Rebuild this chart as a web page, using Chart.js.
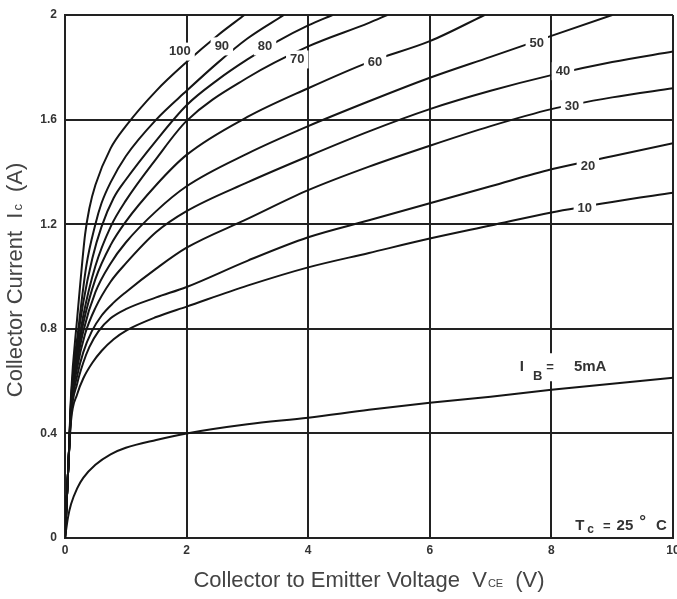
<!DOCTYPE html>
<html><head><meta charset="utf-8">
<script src="https://cdn.jsdelivr.net/npm/chart.js@4/dist/chart.umd.min.js"></script>
<style>html,body{margin:0;padding:0;background:#fff}canvas{display:block}</style>
</head><body>
<canvas id="c" width="677" height="599"></canvas>
<script>
// ---- data ----
const xTickLabels = ['0','2','4','6','8','10'];
const yTickLabels = ['0','0.4','0.8','1.2','1.6','2'];

const vIb5   = [0,0.05,0.1,0.2,0.3,0.5,0.75,1,1.5,2,3,4,5,6,7,8,9,10];
const iIb5   = [0,0.08,0.13,0.19,0.23,0.28,0.32,0.345,0.375,0.4,0.435,0.46,0.49,0.517,0.54,0.567,0.59,0.613];
const vIb10  = [0,0.06,0.1,0.2,0.3,0.45,0.6,0.8,1.02,1.5,2,3,4,5,6,7,8,9,10];
const iIb10  = [0,0.3,0.45,0.55,0.61,0.67,0.715,0.76,0.795,0.845,0.885,0.965,1.035,1.09,1.145,1.195,1.245,1.285,1.32];
const vIb20  = [0,0.06,0.1,0.2,0.3,0.4,0.55,0.75,1,1.5,2,3,4,5,6,7,8,9,10];
const iIb20  = [0,0.3,0.47,0.59,0.67,0.73,0.79,0.84,0.875,0.92,0.96,1.06,1.15,1.215,1.28,1.345,1.41,1.46,1.51];
const vIb30  = [0,0.06,0.1,0.2,0.3,0.44,0.6,0.8,1,1.5,2,3,4,5,6,7,8,9,10];
const iIb30  = [0,0.3,0.48,0.62,0.71,0.79,0.85,0.9,0.94,1.03,1.11,1.22,1.33,1.42,1.5,1.575,1.64,1.685,1.72];
const vIb40  = [0,0.06,0.1,0.2,0.33,0.5,0.75,1,1.5,2,3,4,5,6,7,8,9,10];
const iIb40  = [0,0.3,0.49,0.65,0.78,0.88,0.98,1.05,1.17,1.25,1.36,1.46,1.555,1.64,1.71,1.77,1.82,1.86];
const vIb50  = [0,0.06,0.1,0.2,0.3,0.5,0.75,1,1.5,2,3,4,5,6,7,8,9];
const iIb50  = [0,0.3,0.5,0.67,0.79,0.94,1.05,1.13,1.25,1.345,1.47,1.575,1.67,1.76,1.84,1.92,2.0];
const vIb60  = [0,0.06,0.1,0.2,0.3,0.5,0.75,1,1.5,2,3,4,5,6,6.9];
const iIb60  = [0,0.3,0.5,0.69,0.82,0.99,1.12,1.21,1.35,1.465,1.61,1.72,1.82,1.9,2.0];
const vIb70  = [0,0.06,0.1,0.2,0.3,0.5,0.75,1,1.5,2,3,4,5,5.3];
const iIb70  = [0,0.3,0.51,0.71,0.85,1.04,1.19,1.29,1.45,1.595,1.76,1.88,1.97,2.0];
const vIb80  = [0,0.06,0.1,0.2,0.3,0.45,0.6,0.8,1,1.5,2,2.5,3,3.5,4,4.4];
const iIb80  = [0,0.3,0.52,0.74,0.9,1.07,1.19,1.3,1.37,1.52,1.655,1.75,1.83,1.9,1.96,2.0];
const vIb90  = [0,0.06,0.1,0.22,0.35,0.5,0.6,0.75,1,1.5,2,2.5,3,3.6];
const iIb90  = [0,0.3,0.53,0.8,1.04,1.2,1.28,1.36,1.46,1.6,1.71,1.815,1.91,2.0];
const vIb100 = [0,0.06,0.1,0.2,0.25,0.33,0.4,0.5,0.75,1,1.5,2,2.5,2.95];
const iIb100 = [0,0.3,0.55,0.84,0.97,1.16,1.26,1.35,1.49,1.575,1.71,1.82,1.92,2.0];

const curveLabels = ['100','90','80','70','60','50','40','30','20','10'];
// ---- end data ----

const series = [
  [vIb5,iIb5],[vIb10,iIb10],[vIb20,iIb20],[vIb30,iIb30],[vIb40,iIb40],
  [vIb50,iIb50],[vIb60,iIb60],[vIb70,iIb70],[vIb80,iIb80],[vIb90,iIb90],[vIb100,iIb100]
];
const datasets = series.map(([v,i]) => ({
  data: v.map((x,k)=>({x:x,y:i[k]})),
  borderColor:'#151515', borderWidth:2, pointRadius:0, fill:false,
  cubicInterpolationMode:'monotone'
}));

// label anchors in data units (V, A) for the curve tags
const labelAnchorV = [1.89,2.58,3.29,3.82,5.10,7.76,8.19,8.34,8.6,8.55];
const labelAnchorI = [1.86,1.88,1.88,1.83,1.82,1.89,1.785,1.65,1.42,1.26];

const FONT = '"Liberation Sans", Arial, sans-serif';
function drawRich(ctx, segs, x, y, align){
  let total = 0;
  segs.forEach(s=>{ctx.font=s.f; s.w=ctx.measureText(s.t).width; total+=s.w + (s.gap||0);});
  let cx = align==='right' ? x-total : (align==='center' ? x-total/2 : x);
  segs.forEach(s=>{ctx.font=s.f; ctx.fillText(s.t,cx,y+(s.dy||0)); cx+=s.w+(s.gap||0);});
  return total;
}

const textPlugin = {
  id:'texts',
  afterDatasetsDraw(chart){
    const ctx = chart.ctx, xs = chart.scales.x, ys = chart.scales.y;
    ctx.save();
    ctx.textBaseline='middle';
    ctx.font = 'bold 13px ' + FONT;
    curveLabels.forEach((t,k)=>{
      const px = xs.getPixelForValue(labelAnchorV[k]);
      const py = ys.getPixelForValue(labelAnchorI[k]);
      const w = ctx.measureText(t).width;
      ctx.fillStyle='#fff';
      ctx.fillRect(px-w/2-4, py-9, w+8, 18);
      ctx.fillStyle='#333';
      ctx.textAlign='center';
      ctx.fillText(t, px, py);
    });
    // I_B = 5mA
    ctx.textAlign='left';
    const ibx = xs.getPixelForValue(7.48), iby = ys.getPixelForValue(0.653);
    ctx.fillStyle='#fff';
    ctx.fillRect(ibx-3, iby-14, 100, 28);
    ctx.fillStyle='#333';
    drawRich(ctx,[
      {t:'I', f:'bold 15px ' + FONT, gap:9},
      {t:'B', f:'bold 13px ' + FONT, dy:9, gap:4},
      {t:'=', f:'bold 13px ' + FONT, gap:20},
      {t:'5mA', f:'bold 15px ' + FONT}
    ], ibx, iby, 'left');
    // Tc = 25 ° C
    const tx = xs.getPixelForValue(9.9), ty = ys.getPixelForValue(0.045);
    drawRich(ctx,[
      {t:'T', f:'bold 15px ' + FONT, gap:3},
      {t:'c', f:'bold 12px ' + FONT, dy:3, gap:9},
      {t:'=', f:'bold 13px ' + FONT, gap:6},
      {t:'25', f:'bold 15px ' + FONT, gap:6},
      {t:'°', f:'bold 17px ' + FONT, dy:-4, gap:10},
      {t:'C', f:'bold 15px ' + FONT}
    ], tx, ty, 'right');
    ctx.restore();
  },
  afterDraw(chart){
    const ctx = chart.ctx;
    ctx.save();
    ctx.fillStyle='#444';
    ctx.textBaseline='middle';
    // x title
    drawRich(ctx,[
      {t:'Collector to Emitter Voltage  V', f:'22px ' + FONT, gap:1},
      {t:'CE', f:'11px ' + FONT, dy:3, gap:12},
      {t:'(V)', f:'22px ' + FONT}
    ], 369, 581, 'center');
    // y title
    ctx.translate(16, 280);
    ctx.rotate(-Math.PI/2);
    drawRich(ctx,[
      {t:'Collector Current  I', f:'22px ' + FONT, gap:2},
      {t:'c', f:'13px ' + FONT, dy:2, gap:12},
      {t:'(A)', f:'22px ' + FONT}
    ], 0, 0, 'center');
    ctx.restore();
  }
};

new Chart(document.getElementById('c'), {
  type:'line',
  data:{datasets},
  options:{
    responsive:false, animation:false, devicePixelRatio:1,
    layout:{padding:{top:15,right:4,left:0,bottom:0}},
    plugins:{legend:{display:false}, tooltip:{enabled:false}},
    scales:{
      x:{type:'linear', min:0, max:10,
        ticks:{stepSize:2, color:'#333', padding:5, maxRotation:0,
          font:{family:FONT, size:12, weight:'bold'},
          callback:(v,idx)=>xTickLabels[idx]},
        grid:{color:'#222', lineWidth:2, drawTicks:false},
        border:{color:'#222', width:2},
        afterFit:(s)=>{s.height=61; s.paddingLeft=0; s.paddingRight=0;}
      },
      y:{type:'linear', min:0, max:2,
        ticks:{stepSize:0.4, color:'#333', padding:8,
          font:{family:FONT, size:12, weight:'bold'},
          callback:(v,idx)=>yTickLabels[idx]},
        grid:{color:'#222', lineWidth:2, drawTicks:false},
        border:{color:'#222', width:2},
        afterFit:(s)=>{s.width=65; s.paddingTop=0; s.paddingBottom=0;}
      }
    }
  },
  plugins:[textPlugin]
});
</script>
</body></html>
